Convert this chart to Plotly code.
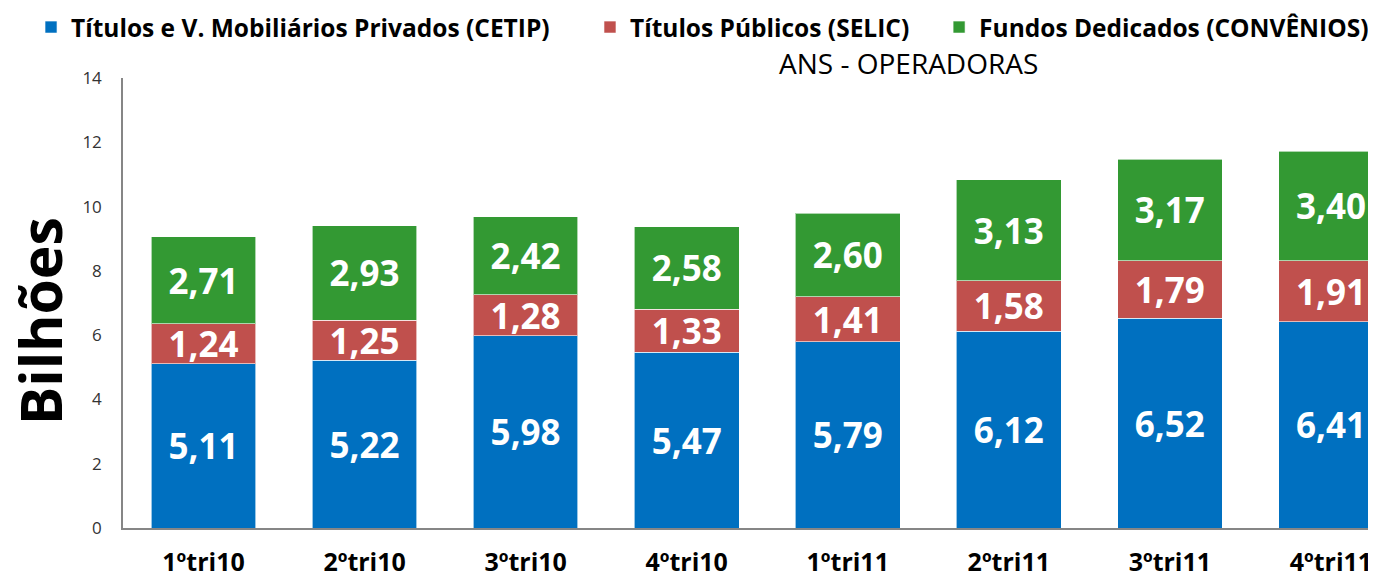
import plotly.graph_objects as go

categories = ["1ºtri10", "2ºtri10", "3ºtri10", "4ºtri10", "1ºtri11", "2ºtri11", "3ºtri11", "4ºtri11"]
cetip = [5.11, 5.22, 5.98, 5.47, 5.79, 6.12, 6.52, 6.41]
selic = [1.24, 1.25, 1.28, 1.33, 1.41, 1.58, 1.79, 1.91]
convenios = [2.71, 2.93, 2.42, 2.58, 2.60, 3.13, 3.17, 3.40]
series_names = ["Títulos e V. Mobiliários Privados (CETIP)", "Títulos Públicos (SELIC)", "Fundos Dedicados (CONVÊNIOS)"]
colors = ["#0070C0", "#C0504D", "#339933"]
y_ticks = [0, 2, 4, 6, 8, 10, 12, 14]

FONT = "Open Sans"
legend_ids = ["legend", "legend2", "legend3"]
legend_x = [-0.0734, 0.3727, 0.6513]

fig = go.Figure()
for name, vals, col, lid in zip(series_names, [cetip, selic, convenios], colors, legend_ids):
    fig.add_trace(go.Bar(
        x=categories, y=vals, name=name, legend=lid,
        marker=dict(color=col, line=dict(color="rgba(255,255,255,0.6)", width=1)),
        texttemplate="%{y:.2f}", textposition="inside", insidetextanchor="middle",
        textfont=dict(family=FONT, size=35, color="white", weight="bold"),
        hoverinfo="skip",
    ))

legend_style = dict(orientation="h", xanchor="left", y=1.113, yanchor="middle",
                    font=dict(family=FONT, size=24.5, color="black", weight="bold"),
                    bgcolor="rgba(0,0,0,0)")

# page body has an 8px margin: figure is sized so it fills the 1376x578 window
fig.update_layout(
    barmode="stack", bargap=0.35,
    separators=",.",
    width=1368, height=570,
    margin=dict(l=115, r=0, t=70, b=50, autoexpand=False),
    plot_bgcolor="white", paper_bgcolor="white",
    font=dict(family=FONT, color="black"),
    uniformtext=dict(minsize=35, mode="show"),
    showlegend=True,
    legend=dict(x=legend_x[0], **legend_style),
    legend2=dict(x=legend_x[1], **legend_style),
    legend3=dict(x=legend_x[2], **legend_style),
    xaxis=dict(range=[-0.5, 7.28], showline=True, linecolor="#868686", linewidth=1.5,
               showgrid=False, ticks="", ticklabelstandoff=11,
               tickfont=dict(family=FONT, size=25, color="black", weight="bold")),
    yaxis=dict(range=[0, 14], tickvals=y_ticks, showline=True, linecolor="#868686", linewidth=1.5,
               showgrid=False, zeroline=False, ticks="", ticklabelstandoff=16,
               tickfont=dict(family=FONT, size=17, color="#333333")),
    annotations=[
        dict(text="ANS - OPERADORAS", xref="paper", yref="paper", x=0.6265, y=1.033,
             xanchor="center", yanchor="middle", showarrow=False,
             font=dict(family=FONT, size=28, color="black")),
        dict(text="Bilhões", xref="paper", yref="paper", x=-0.0662, y=0.46,
             xanchor="center", yanchor="middle", textangle=-90, showarrow=False,
             font=dict(family=FONT, size=57, color="black", weight="bold")),
    ],
)

fig.write_html("out.html")
